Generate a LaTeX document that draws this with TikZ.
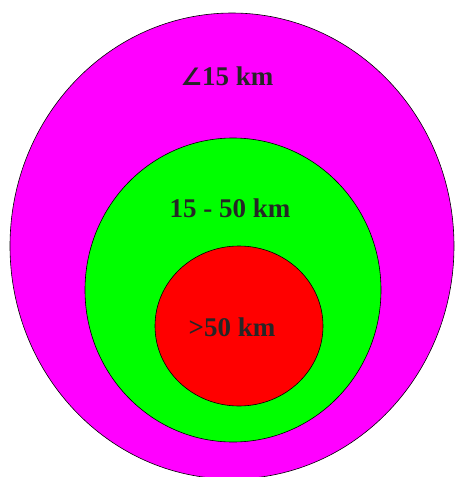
\documentclass[tikz,border=0pt]{standalone}
\usepackage{fontspec}
\setmainfont{Liberation Serif}
\newfontfamily\symbolfont{DejaVu Sans}
\usepackage{tikz}
\usetikzlibrary{positioning}

\definecolor{zonefar}{RGB}{255,0,255}
\definecolor{zonemid}{RGB}{0,255,0}
\definecolor{zonenear}{RGB}{255,0,0}

\begin{document}
\begin{tikzpicture}[x=1pt,y=-1pt,
    zone/.style={draw=black,line width=0.6pt},
    dist/.style={font=\fontsize{27}{31}\selectfont\bfseries,text=black!85,inner sep=0pt}]
    \useasboundingbox (0,0) rectangle (459,477);
    \clip (0,0) rectangle (459,477);

    \filldraw[zone,fill=zonefar] (232,246) ellipse (222 and 233);
    \filldraw[zone,fill=zonemid] (233,290) ellipse (148 and 152);
    \filldraw[zone,fill=zonenear] (239,326) ellipse (84 and 80);

    \node[dist] (far) at (227,76) {{\symbolfont\fontsize{24}{28}\selectfont ∠}15 km};
    \node[dist] (mid) at (230,208) {15 - 50 km};
    \node[dist] (near) at (232,327) {>50 km};
\end{tikzpicture}
\end{document}
